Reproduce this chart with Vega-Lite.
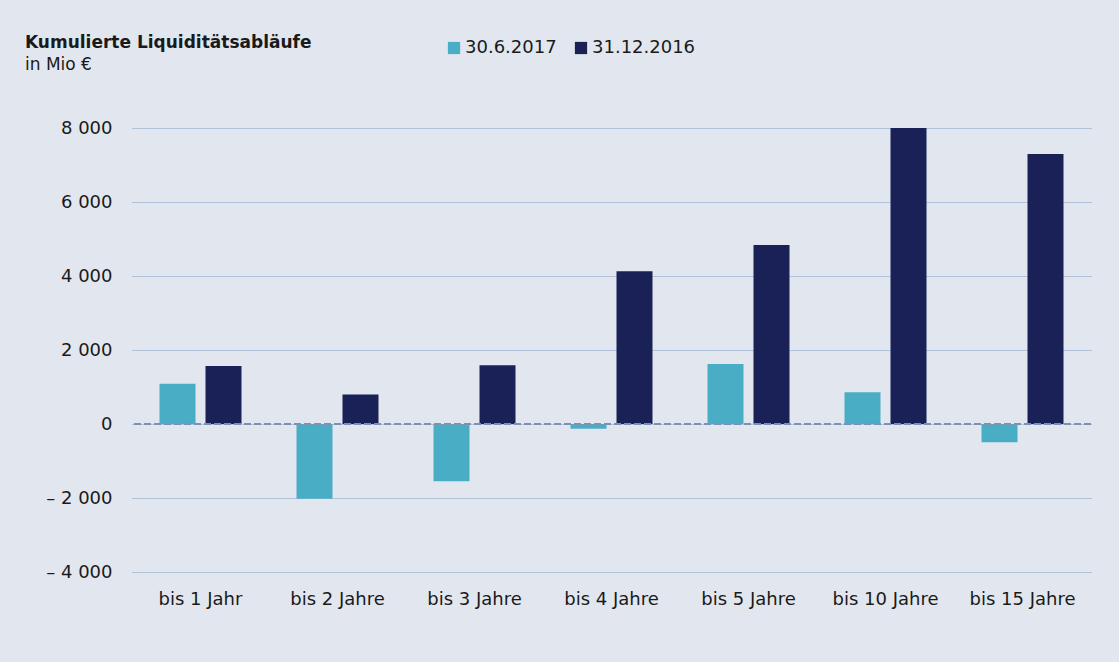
{
  "$schema": "https://vega.github.io/schema/vega-lite/v6.json",
  "width": 959,
  "height": 444,
  "autosize": {"type": "none"},
  "padding": {"left": 132, "top": 128, "right": 28, "bottom": 90},
  "background": "#e2e7ef",
  "title": {
    "text": "Kumulierte Liquiditätsabläufe",
    "subtitle": "in Mio €",
    "anchor": "start",
    "frame": "group",
    "dx": -107,
    "offset": -35,
    "font": "DejaVu Sans",
    "fontSize": 17,
    "fontWeight": "bold",
    "color": "#1a1a1a",
    "subtitleFont": "DejaVu Sans",
    "subtitleFontSize": 17,
    "subtitleColor": "#1a1a1a",
    "subtitlePadding": 5
  },
  "config": {
    "view": {"stroke": null},
    "font": "DejaVu Sans"
  },
  "data": {
    "values": [
      {"kat": "bis 1 Jahr", "datum": "30.6.2017", "wert": 1090},
      {"kat": "bis 1 Jahr", "datum": "31.12.2016", "wert": 1570},
      {"kat": "bis 2 Jahre", "datum": "30.6.2017", "wert": -2020},
      {"kat": "bis 2 Jahre", "datum": "31.12.2016", "wert": 800},
      {"kat": "bis 3 Jahre", "datum": "30.6.2017", "wert": -1550},
      {"kat": "bis 3 Jahre", "datum": "31.12.2016", "wert": 1590},
      {"kat": "bis 4 Jahre", "datum": "30.6.2017", "wert": -125},
      {"kat": "bis 4 Jahre", "datum": "31.12.2016", "wert": 4130},
      {"kat": "bis 5 Jahre", "datum": "30.6.2017", "wert": 1620},
      {"kat": "bis 5 Jahre", "datum": "31.12.2016", "wert": 4840},
      {"kat": "bis 10 Jahre", "datum": "30.6.2017", "wert": 860},
      {"kat": "bis 10 Jahre", "datum": "31.12.2016", "wert": 8000},
      {"kat": "bis 15 Jahre", "datum": "30.6.2017", "wert": -495},
      {"kat": "bis 15 Jahre", "datum": "31.12.2016", "wert": 7300}
    ]
  },
  "layer": [
    {
      "mark": {"type": "bar"},
      "encoding": {
        "x": {
          "field": "kat",
          "type": "nominal",
          "sort": null,
          "scale": {"paddingInner": 0.4015, "paddingOuter": 0.2007},
          "axis": {
            "title": null,
            "labelAngle": 0,
            "domain": false,
            "ticks": false,
            "labelFontSize": 18,
            "labelColor": "#1a1a1a",
            "labelPadding": 18,
            "labelFont": "DejaVu Sans"
          }
        },
        "xOffset": {
          "field": "datum",
          "type": "nominal",
          "sort": ["30.6.2017", "31.12.2016"],
          "scale": {"paddingInner": 0.2174, "paddingOuter": 0}
        },
        "y": {
          "field": "wert",
          "type": "quantitative",
          "scale": {"domain": [-4000, 8000], "nice": false, "zero": false},
          "axis": {
            "title": null,
            "values": [-4000, -2000, 0, 2000, 4000, 6000, 8000],
            "labelExpr": "(datum.value < 0 ? '– ' : '') + replace(format(abs(datum.value), ','), ',', ' ')",
            "domain": false,
            "ticks": false,
            "labelPadding": 20,
            "labelFontSize": 18,
            "labelColor": "#1a1a1a",
            "labelFont": "DejaVu Sans",
            "grid": true,
            "gridColor": "#7f9cc2",
            "gridDash": [1, 1],
            "gridWidth": 1
          }
        },
        "color": {
          "field": "datum",
          "type": "nominal",
          "sort": ["30.6.2017", "31.12.2016"],
          "scale": {"domain": ["30.6.2017", "31.12.2016"], "range": ["#4aadc6", "#192156"]},
          "legend": {
            "title": null,
            "orient": "none",
            "legendX": 313,
            "legendY": -89,
            "direction": "horizontal",
            "symbolType": "square",
            "symbolSize": 150,
            "symbolStrokeWidth": 0,
            "labelFontSize": 18,
            "labelColor": "#1a1a1a",
            "labelFont": "DejaVu Sans",
            "labelOffset": 2,
            "columnPadding": 15
          }
        }
      }
    },
    {
      "mark": {"type": "rule", "strokeDash": [7, 3], "strokeWidth": 2, "color": "#7a93b3"},
      "encoding": {"y": {"datum": 0, "type": "quantitative"}}
    }
  ]
}
